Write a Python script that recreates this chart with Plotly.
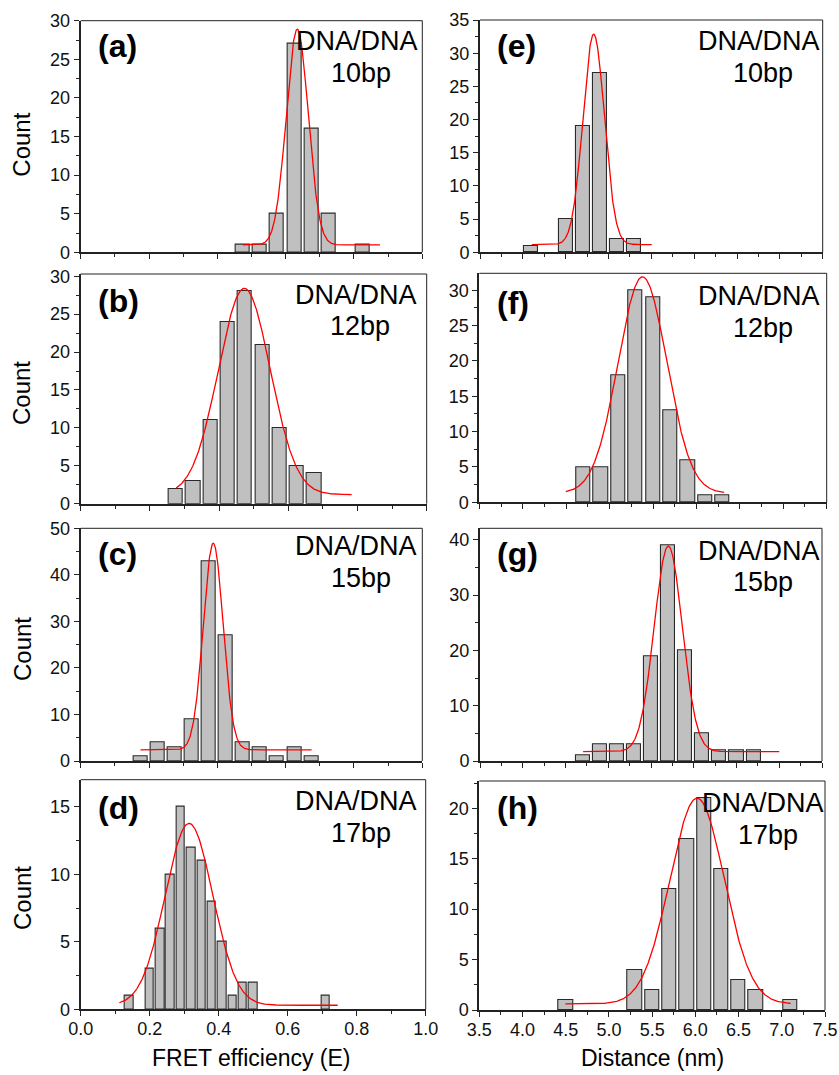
import numpy as np
import plotly.graph_objects as go

W, H = 839, 1075
FONT = "Liberation Sans, Arial, Helvetica, sans-serif"
AX = "#222222"

# ---------------- data ----------------
# FRET efficiency histograms (left column)
a_centers = [0.475, 0.525, 0.575, 0.625, 0.675, 0.725, 0.825]
a_counts = [1, 1, 5, 27, 16, 5, 1]
b_centers = [0.275, 0.325, 0.375, 0.425, 0.475, 0.525, 0.575, 0.625, 0.675]
b_counts = [2, 3, 11, 24, 28, 21, 10, 5, 4]
c_centers = [0.175, 0.225, 0.275, 0.325, 0.375, 0.425, 0.475, 0.525, 0.575, 0.625, 0.675]
c_counts = [1, 4, 3, 9, 43, 27, 4, 3, 1, 3, 1]
d_centers = [0.14, 0.20, 0.23, 0.26, 0.29, 0.32, 0.35, 0.38, 0.41, 0.44, 0.47, 0.50, 0.71]
d_counts = [1, 3, 6, 10, 15, 12, 11, 8, 5, 1, 2, 2, 1]

# Distance histograms (right column)
e_centers = [4.1, 4.5, 4.7, 4.9, 5.1, 5.3]
e_counts = [1, 5, 19, 27, 2, 2]
f_centers = [4.7, 4.9, 5.1, 5.3, 5.5, 5.7, 5.9, 6.1, 6.3]
f_counts = [5, 5, 18, 30, 29, 13, 6, 1, 1]
g_centers = [4.7, 4.9, 5.1, 5.3, 5.5, 5.7, 5.9, 6.1, 6.3, 6.5, 6.7]
g_counts = [1, 3, 3, 3, 19, 39, 20, 5, 2, 2, 2]
h_centers = [4.5, 5.3, 5.5, 5.7, 5.9, 6.1, 6.3, 6.5, 6.7, 7.1]
h_counts = [1, 4, 2, 12, 17, 21, 14, 3, 2, 1]

# bin widths
bin_left = [0.05, 0.05, 0.05, 0.03]
bin_right = [0.2, 0.2, 0.2, 0.2]

# Gaussian fit parameters per panel: centre, sigma, amplitude, baseline, x-start, x-end
fit_center = [0.634, 0.473, 0.388, 0.314, 4.827, 5.379, 5.702, 6.02]
fit_sigma = [0.032, 0.075, 0.029, 0.069, 0.125, 0.28, 0.165, 0.315]
fit_amp = [27.95, 27.2, 44.4, 13.47, 31.7, 30.6, 37.2, 20.4]
fit_base = [0.95, 1.2, 2.4, 0.3, 1.16, 1.3, 1.69, 0.6]
fit_start = [0.475, 0.276, 0.175, 0.112, 4.103, 4.496, 4.706, 4.495]
fit_end = [0.876, 0.783, 0.676, 0.745, 5.504, 6.32, 7.0, 7.103]

panel_letters = ["a", "b", "c", "d", "e", "f", "g", "h"]
panel_pair = "DNA/DNA"
panel_bp = ["10bp", "12bp", "15bp", "17bp", "10bp", "12bp", "15bp", "17bp"]
y_max = [30, 30.3, 50, 17.0, 35, 32.4, 42.1, 22.7]
y_dtick = [5, 5, 10, 5, 5, 5, 10, 5]

x_title_left = "FRET efficiency (E)"
x_title_right = "Distance (nm)"
y_title = "Count"

centers = [a_centers, b_centers, c_centers, d_centers, e_centers, f_centers, g_centers, h_centers]
counts = [a_counts, b_counts, c_counts, d_counts, e_counts, f_counts, g_counts, h_counts]
bins = bin_left + bin_right

# ---------------- layout geometry (pixels) ----------------
dom_px = [
    (80.7, 422.3, 20.7, 252.3),
    (80.7, 426.7, 274.0, 503.7),
    (80.7, 422.3, 528.3, 761.0),
    (80.7, 425.7, 779.7, 1009.3),
    (480.0, 822.7, 20.0, 252.3),
    (479.3, 826.7, 273.3, 502.3),
    (480.0, 822.0, 528.3, 761.0),
    (479.3, 825.0, 781.0, 1010.0),
]
letter_y = [48.5, 303.5, 556.5, 810, 48.5, 305, 556.5, 810]
line1_x = [357.3, 356, 356, 356, 759, 759, 759, 763]
line1_captop = [31.7, 285, 536.7, 791.7, 31.7, 286.7, 541, 793.3]
line2_x = [361, 360, 360.5, 360.5, 763, 762.5, 762.5, 768]
count_y = [144.7, 393, 649, 898]


def fx(px):
    return px / W


def fy(py):
    return 1 - py / H


fig = go.Figure()
layout = dict(
    width=W, height=H, margin=dict(l=0, r=0, t=0, b=0, autoexpand=False),
    paper_bgcolor="white", plot_bgcolor="white", showlegend=False,
    font=dict(family=FONT, color="#111"),
)
shapes = []
annotations = []

for i in range(8):
    k = i + 1
    xa = "x" if k == 1 else f"x{k}"
    ya = "y" if k == 1 else f"y{k}"
    xkey = "xaxis" if k == 1 else f"xaxis{k}"
    ykey = "yaxis" if k == 1 else f"yaxis{k}"
    left = i < 4
    x0, x1, y0, y1 = dom_px[i]

    fig.add_trace(go.Bar(
        x=centers[i], y=counts[i], width=bins[i] * 0.82,
        marker=dict(color="#c0c0c0", line=dict(color="#2a2a2a", width=1.1)),
        xaxis=xa, yaxis=ya, hoverinfo="x+y",
    ))
    xs = np.linspace(fit_start[i], fit_end[i], 400)
    ys = fit_base[i] + fit_amp[i] * np.exp(-0.5 * ((xs - fit_center[i]) / fit_sigma[i]) ** 2)
    fig.add_trace(go.Scatter(
        x=xs, y=ys, mode="lines", line=dict(color="#ff0000", width=1.3),
        xaxis=xa, yaxis=ya, hoverinfo="skip",
    ))

    bottom = i in (3, 7)
    layout[xkey] = dict(
        domain=[fx(x0), fx(x1)], anchor=ya,
        range=[0, 1] if left else [3.5, 7.5],
        tick0=0 if left else 3.5, dtick=0.2 if left else 0.5,
        tickformat=".1f", showticklabels=bottom, ticklabelstandoff=-3,
        showline=True, linewidth=2, linecolor=AX, mirror=False,
        ticks="outside", ticklen=5, tickwidth=1.2, tickcolor=AX,
        minor=dict(ticks="outside", ticklen=3, tickwidth=1, tickcolor=AX,
                   dtick=0.1 if left else 0.25, showgrid=False),
        showgrid=False, zeroline=False, automargin=False,
        tickfont=dict(family=FONT, size=18, color="#111"),
    )
    layout[ykey] = dict(
        domain=[fy(y1), fy(y0)], anchor=xa,
        range=[0, y_max[i]], tick0=0, dtick=y_dtick[i],
        showline=True, linewidth=2, linecolor=AX, mirror=False,
        ticks="outside", ticklen=5, tickwidth=1.2, tickcolor=AX,
        minor=dict(ticks="outside", ticklen=3, tickwidth=1, tickcolor=AX,
                   dtick=y_dtick[i] / 2, showgrid=False),
        showgrid=False, zeroline=False, automargin=False,
        tickfont=dict(family=FONT, size=18, color="#111"),
    )
    # thin top and right frame lines
    shapes.append(dict(type="line", xref=f"{xa} domain", yref=f"{ya} domain",
                       x0=0, x1=1, y0=1, y1=1, line=dict(color=AX, width=1)))
    shapes.append(dict(type="line", xref=f"{xa} domain", yref=f"{ya} domain",
                       x0=1, x1=1, y0=0, y1=1, line=dict(color=AX, width=1)))

    # panel letter
    lx = 96 if left else 495
    annotations.append(dict(
        text=f"<b>({panel_letters[i]})</b>", xref="paper", yref="paper",
        x=fx(lx), y=fy(letter_y[i] - 2.5), xanchor="left", yanchor="middle", showarrow=False,
        font=dict(family=FONT, size=32, color="#000"),
    ))
    # DNA/DNA label (two lines)
    c1 = line1_captop[i] + 9.5
    annotations.append(dict(
        text=panel_pair, xref="paper", yref="paper",
        x=fx(line1_x[i]), y=fy(c1), xanchor="center", yanchor="middle",
        showarrow=False, font=dict(family=FONT, size=27, color="#000"),
    ))
    annotations.append(dict(
        text=panel_bp[i], xref="paper", yref="paper",
        x=fx(line2_x[i]), y=fy(c1 + 31.7), xanchor="center", yanchor="middle",
        showarrow=False, font=dict(family=FONT, size=27, color="#000"),
    ))
    if left:
        annotations.append(dict(
            text=y_title, xref="paper", yref="paper", x=fx(22), y=fy(count_y[i]),
            xanchor="center", yanchor="middle", textangle=-90, showarrow=False,
            font=dict(family=FONT, size=24, color="#000"),
        ))

annotations.append(dict(text=x_title_left, xref="paper", yref="paper", x=fx(251), y=fy(1058),
                        xanchor="center", yanchor="middle", showarrow=False,
                        font=dict(family=FONT, size=23, color="#000")))
annotations.append(dict(text=x_title_right, xref="paper", yref="paper", x=fx(652), y=fy(1058),
                        xanchor="center", yanchor="middle", showarrow=False,
                        font=dict(family=FONT, size=23, color="#000")))

layout["shapes"] = shapes
layout["annotations"] = annotations
layout["bargap"] = 0
fig.update_layout(**layout)
fig.write_html(
    "out.html",
    config={"displayModeBar": False},
    post_script="document.body.style.margin='0px';document.body.style.overflow='hidden';",
)
